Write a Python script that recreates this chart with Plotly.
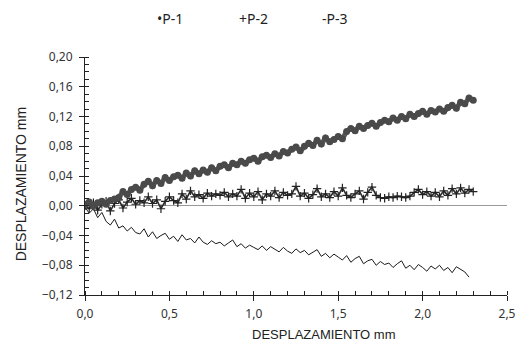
import plotly.graph_objects as go

STEP = 0.025

p1 = [0.002, 0.005, 0.000, 0.004, 0.006, 0.002, 0.007, 0.009, 0.011, 0.019,
      0.015, 0.022, 0.025, 0.021, 0.029, 0.033, 0.027, 0.034, 0.030, 0.038,
      0.034, 0.039, 0.041, 0.037, 0.044, 0.040, 0.047, 0.043, 0.048, 0.045,
      0.051, 0.047, 0.053, 0.055, 0.051, 0.057, 0.055, 0.060, 0.057, 0.062,
      0.064, 0.060, 0.066, 0.068, 0.065, 0.070, 0.067, 0.073, 0.071, 0.076,
      0.079, 0.074, 0.080, 0.084, 0.081, 0.088, 0.083, 0.091, 0.086, 0.089,
      0.093, 0.090, 0.100, 0.104, 0.101, 0.107, 0.104, 0.108, 0.111, 0.107,
      0.112, 0.115, 0.113, 0.118, 0.115, 0.120, 0.117, 0.123, 0.120, 0.124,
      0.127, 0.123, 0.128, 0.126, 0.130, 0.127, 0.132, 0.135, 0.131, 0.139,
      0.137, 0.145, 0.142]

p2 = [0.000, -0.004, 0.004, -0.006, 0.002, 0.006, -0.007, 0.003, 0.008, -0.003,
      0.005, 0.010, 0.002, 0.007, 0.004, 0.012, 0.003, 0.008, -0.004, 0.006,
      0.012, 0.007, 0.004, 0.016, 0.009, 0.020, 0.012, 0.015, 0.010, 0.017,
      0.013, 0.016, 0.014, 0.018, 0.012, 0.016, 0.013, 0.022, 0.010, 0.017,
      0.012, 0.019, 0.008, 0.016, 0.013, 0.020, 0.011, 0.018, 0.014, 0.016,
      0.026, 0.013, 0.017, 0.010, 0.015, 0.023, 0.012, 0.016, 0.011, 0.019,
      0.013, 0.024, 0.014, 0.011, 0.016, 0.020, 0.009, 0.018, 0.025, 0.014,
      0.011, 0.010, 0.012, 0.011, 0.013, 0.012, 0.011, 0.013, 0.018, 0.022,
      0.015, 0.019, 0.013, 0.018, 0.012, 0.020, 0.014, 0.023, 0.016, 0.024,
      0.017, 0.022, 0.019]

p3 = [-0.002, -0.010, -0.004, -0.016, -0.009, -0.021, -0.026, -0.018, -0.030, -0.027,
      -0.034, -0.029, -0.036, -0.038, -0.031, -0.042, -0.035, -0.044, -0.040, -0.037,
      -0.045, -0.041, -0.048, -0.039, -0.046, -0.044, -0.050, -0.042, -0.049, -0.052,
      -0.047, -0.051, -0.049, -0.054, -0.050, -0.046, -0.055, -0.051, -0.057, -0.053,
      -0.056, -0.059, -0.054, -0.060, -0.055, -0.058, -0.062, -0.056, -0.061, -0.064,
      -0.058, -0.063, -0.060, -0.066, -0.062, -0.059, -0.068, -0.064, -0.070, -0.065,
      -0.069, -0.073, -0.067, -0.076, -0.071, -0.068, -0.078, -0.074, -0.072, -0.080,
      -0.075, -0.079, -0.077, -0.083, -0.078, -0.074, -0.084, -0.080, -0.086, -0.079,
      -0.083, -0.088, -0.081, -0.085, -0.080, -0.087, -0.083, -0.090, -0.082, -0.085,
      -0.089, -0.096]

series_names = ["P-1", "P-2", "P-3"]
legend_labels = ["•P-1", "+P-2", "-P-3"]

x1 = [round(i * STEP, 3) for i in range(len(p1))]
x2 = [round(i * STEP, 3) for i in range(len(p2))]
x3 = [round(i * STEP, 3) for i in range(len(p3))]

x_title = "DESPLAZAMIENTO mm"
y_title = "DESPLAZAMIENTO mm"

fig = go.Figure()
fig.add_trace(go.Scatter(x=x3, y=p3, name=series_names[2], mode="lines",
                         line=dict(color="#1a1a1a", width=1)))
fig.add_trace(go.Scatter(x=x2, y=p2, name=series_names[1], mode="lines+markers",
                         line=dict(color="#2a2a2a", width=1.6),
                         marker=dict(symbol="cross-thin", size=6,
                                     line=dict(color="#222", width=1.2))))
fig.add_trace(go.Scatter(x=x1, y=p1, name=series_names[0], mode="lines+markers",
                         line=dict(color="#5c5c5c", width=5),
                         marker=dict(symbol="circle", size=7, color="#4a4a4a")))
# overlay axes carry the inside half of the crossing major ticks
fig.add_trace(go.Scatter(x=[None], y=[None], xaxis="x2", yaxis="y2",
                         showlegend=False, hoverinfo="skip"))

tick_font = dict(family="Noto Sans, Open Sans, sans-serif", size=12, color="#333")
title_font = dict(family="Liberation Sans, Arial", color="#222")

fig.update_layout(
    width=528, height=341,
    margin=dict(l=85, r=12, t=57, b=46),
    paper_bgcolor="white", plot_bgcolor="white",
    showlegend=False,
    separators=", ",
    xaxis=dict(range=[0, 2.5], dtick=0.5, tick0=0, tickformat=".1f",
               showgrid=False, zeroline=False,
               showline=True, linecolor="#222", linewidth=1,
               ticks="outside", ticklen=5, tickcolor="#222",
               minor=dict(dtick=0.1, ticks="inside", ticklen=4, tickcolor="#222"),
               tickfont=tick_font, ticklabelstandoff=3),
    yaxis=dict(range=[-0.12, 0.20], dtick=0.04, tick0=0, tickformat=".2f",
               showgrid=False,
               zeroline=True, zerolinecolor="#999", zerolinewidth=1,
               showline=True, linecolor="#222", linewidth=1,
               ticks="outside", ticklen=5, tickcolor="#222",
               minor=dict(dtick=0.01, ticks="inside", ticklen=4, tickcolor="#222"),
               tickfont=tick_font, ticklabelstandoff=4),
    xaxis2=dict(range=[0, 2.5], dtick=0.5, overlaying="x", anchor="y2", side="bottom",
                showgrid=False, zeroline=False, showline=False, showticklabels=False,
                ticks="inside", ticklen=4, tickcolor="#222"),
    yaxis2=dict(range=[-0.12, 0.20], dtick=0.04, tick0=0, overlaying="y", anchor="x2",
                side="left", showgrid=False, zeroline=False, showline=False,
                showticklabels=False, ticks="inside", ticklen=4, tickcolor="#222"),
)

# axis titles (placed as in the original, x title right of centre)
fig.add_annotation(text=x_title, x=0.566, y=-0.164, xref="paper", yref="paper",
                   showarrow=False, xanchor="center", yanchor="middle",
                   font=dict(size=13, **title_font))
fig.add_annotation(text=y_title, x=-0.151, y=0.466, xref="paper", yref="paper",
                   showarrow=False, xanchor="center", yanchor="middle", textangle=-90,
                   font=dict(size=14, **title_font))

# legend labels placed in paper coordinates above the plot
legend_x = [0.202, 0.399, 0.592]
for lbl, lx in zip(legend_labels, legend_x):
    fig.add_annotation(text=lbl, x=lx, y=1.16, xref="paper", yref="paper",
                       showarrow=False, xanchor="center", yanchor="middle",
                       font=dict(family="Noto Sans, Open Sans, sans-serif", size=14, color="#222"))

fig.write_html("out.html")
